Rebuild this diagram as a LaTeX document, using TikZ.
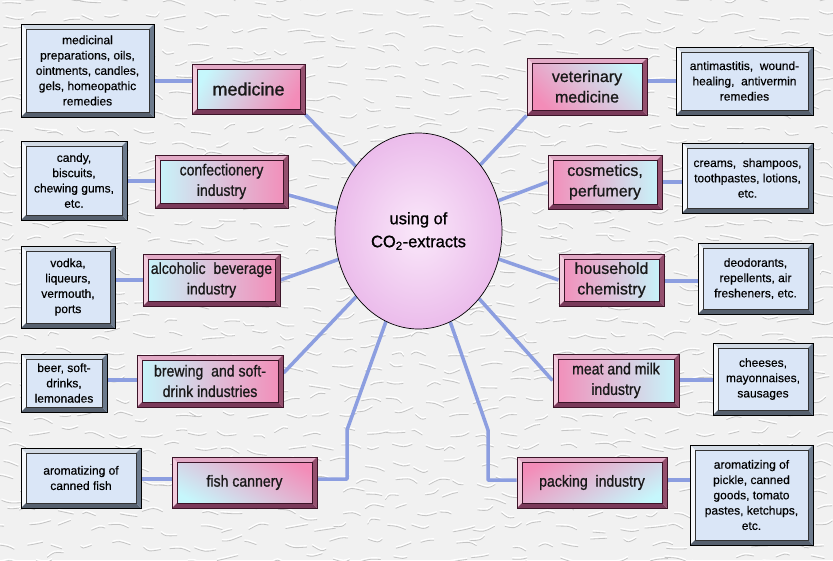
\documentclass[tikz,border=0pt]{standalone}
\usepackage{fontspec}
\setmainfont{Liberation Sans}[FakeBold=0.35]
\newfontfamily\narrowfont[FakeStretch=0.88,FakeBold=0.9]{Liberation Sans}
\newfontfamily\mainfont[FakeBold=0.9]{Liberation Sans}
\usetikzlibrary{shapes.geometric,calc}
\pgfdeclarelayer{bg}
\pgfsetlayers{bg,main}
\definecolor{bgc}{HTML}{F1F1F1}
\definecolor{crack}{HTML}{C4C4C4}
\definecolor{linkc}{HTML}{8C9EE0}
\definecolor{cy}{HTML}{C6F7FC}
\definecolor{pk}{HTML}{F38CB8}
\definecolor{dfill}{HTML}{DAE6F7}
\definecolor{dlight}{HTML}{F6F8FB}
\definecolor{dtop}{HTML}{D2DAE4}
\definecolor{ddark}{HTML}{6C7A8C}
\definecolor{ddarker}{HTML}{56606E}
\definecolor{mlight}{HTML}{F2CCDD}
\definecolor{mtop}{HTML}{E2AAC6}
\definecolor{mdark}{HTML}{94506E}
\definecolor{mdarker}{HTML}{7A3A5A}
\definecolor{mborder}{HTML}{3C1428}
\definecolor{ellout}{HTML}{EBBCEB}
\definecolor{ellin}{HTML}{FAE8FA}
\tikzset{
  bevel/.style n args={5}{path picture={
    \coordinate (pNW) at (path picture bounding box.north west);
    \coordinate (pNE) at (path picture bounding box.north east);
    \coordinate (pSE) at (path picture bounding box.south east);
    \coordinate (pSW) at (path picture bounding box.south west);
    \coordinate (qNW) at ([shift={(5pt,-5pt)}]pNW);
    \coordinate (qNE) at ([shift={(-5pt,-5pt)}]pNE);
    \coordinate (qSE) at ([shift={(-5pt,5pt)}]pSE);
    \coordinate (qSW) at ([shift={(5pt,5pt)}]pSW);
    \fill[#1] (pNW)--(pNE)--(qNE)--(qNW)--cycle;
    \fill[#2] (pNW)--(qNW)--(qSW)--(pSW)--cycle;
    \fill[#3] (pSW)--(qSW)--(qSE)--(pSE)--cycle;
    \fill[#4] (pNE)--(pSE)--(qSE)--(qNE)--cycle;
    \draw[#5,line width=0.6pt] (qNW) rectangle (qSE);
  }},
  detail/.style={rectangle, draw=black, line width=0.9pt, fill=dfill, inner sep=0pt,
    align=center, text=black, font=\fontsize{12}{15.3}\selectfont,
    bevel={dtop}{dlight}{ddarker}{ddark}{black!80}},
  mainbox/.style={rectangle, draw=mborder, line width=1pt, inner sep=0pt,
    align=center, text=black!90, font=\narrowfont\fontsize{16}{20.5}\selectfont,
    bevel={mtop}{mlight}{mdarker}{mdark}{mborder}},
  grad/.style n args={3}{top color=#1, bottom color=#2, shading angle=#3},
  regfont/.style={font=\mainfont\fontsize{#1}{20.5}\selectfont},
  link/.style={draw=linkc, line width=3.5pt, line join=round},
  center/.style={ellipse, draw=black, line width=0.7pt, inner color=ellin, outer color=ellout,
    minimum width=167pt, minimum height=196pt, inner sep=0pt, align=center,
    font=\mainfont\fontsize{16.5}{23}\selectfont}
}
\begin{document}
\begin{tikzpicture}[x=1pt,y=-1pt]
\useasboundingbox (0,0) rectangle (833,560);
% centre
\node[center] (c) at (418.5,231) {using of\\CO\textsubscript{2}-extracts};
% left details
\node[detail, minimum width=133pt, minimum height=93pt] (d1) at (87.5,70.5)
  {medicinal\\preparations, oils,\\ointments, candles,\\gels, homeopathic\\remedies};
\node[detail, minimum width=106pt, minimum height=79pt] (d2) at (74,180.5)
  {candy,\\biscuits,\\chewing gums,\\etc.};
\node[detail, minimum width=94pt, minimum height=82pt] (d3) at (68,287)
  {vodka,\\liqueurs,\\vermouth,\\ports};
\node[detail, minimum width=86pt, minimum height=58pt] (d4) at (64,383)
  {beer, soft-\\drinks,\\lemonades};
\node[detail, minimum width=120pt, minimum height=60pt] (d5) at (81,478)
  {aromatizing of\\canned fish};
% left main
\node[mainbox, grad={cy}{pk}{60}, regfont=18, minimum width=113pt, minimum height=50pt] (m1) at (248.5,89) {medicine};
\node[mainbox, grad={cy}{pk}{90}, minimum width=133pt, minimum height=53pt] (m2) at (221.5,181.5) {confectionery\\industry};
\node[mainbox, grad={cy}{pk}{90}, minimum width=137pt, minimum height=52pt] (m3) at (211.5,280) {alcoholic\ \ beverage\\industry};
\node[mainbox, grad={cy}{pk}{90}, minimum width=146pt, minimum height=52pt] (m4) at (210,381) {brewing\ \ and soft-\\drink industries};
\node[mainbox, grad={pk}{cy}{-30}, minimum width=145pt, minimum height=51pt] (m5) at (244.5,482.5) {fish cannery};
% right main
\node[mainbox, grad={cy}{pk}{-45}, regfont=16, minimum width=120pt, minimum height=57pt] (m6) at (587,86.5) {veterinary\\medicine};
\node[mainbox, grad={pk}{cy}{90}, regfont=16, minimum width=114pt, minimum height=54pt] (m7) at (605,182) {cosmetics,\\perfumery};
\node[mainbox, grad={pk}{cy}{90}, regfont=16, minimum width=105pt, minimum height=52pt] (m8) at (611.5,280) {household\\chemistry};
\node[mainbox, grad={pk}{cy}{90}, minimum width=126pt, minimum height=53pt] (m9) at (616,380.5) {meat and milk\\industry};
\node[mainbox, grad={pk}{cy}{30}, minimum width=150pt, minimum height=51pt] (m10) at (592,482.5) {packing\ \ industry};
% right details
\node[detail, minimum width=137pt, minimum height=68pt] (d6) at (744.5,81)
  {antimastitis,\ \ wound-\\healing,\ \ antivermin\\remedies};
\node[detail, minimum width=131pt, minimum height=70pt] (d7) at (747.5,178)
  {creams,\ \ shampoos,\\toothpastes, lotions,\\etc.};
\node[detail, minimum width=115pt, minimum height=71pt] (d8) at (755.5,278.5)
  {deodorants,\\repellents,\ air\\fresheners, etc.};
\node[detail, minimum width=100pt, minimum height=72pt] (d9) at (763,379)
  {cheeses,\\mayonnaises,\\sausages};
\node[detail, minimum width=123pt, minimum height=100pt] (d10) at (751.5,495)
  {aromatizing of\\pickle, canned\\goods, tomato\\pastes, ketchups,\\etc.};
\coordinate (b5) at (347,430);
\coordinate (b10) at (488,430);
\begin{pgfonlayer}{bg}
\fill[bgc] (0,0) rectangle (833,560);
% paper texture
\begin{scope}
\clip (0,0) rectangle (833,560);
\pgfmathsetseed{4242}
\foreach \i in {0,...,30}{
  \foreach \j in {0,...,35}{
    \pgfmathsetmacro{\xa}{\i*28+rand*9}
    \pgfmathsetmacro{\ya}{\j*16+rand*5}
    \pgfmathsetmacro{\xb}{\xa+16+rand*6}
    \pgfmathsetmacro{\yb}{\ya+rand*5}
    \pgfmathsetmacro{\xm}{(\xa+\xb)/2+rand*4}
    \pgfmathsetmacro{\ym}{(\ya+\yb)/2+rand*4}
    \draw[crack, line width=0.8pt, line cap=round] (\xa,\ya) .. controls (\xm,\ym) .. (\xb,\yb);
    \draw[white, line width=1.1pt, line cap=round] (\xa,\ya-1.5) .. controls (\xm,\ym-1.5) .. (\xb,\yb-1.5);
  }
}
\end{scope}
% detail links
\draw[link] (d1.east |- 0,81) -- (m1.west |- 0,81);
\draw[link] (d2.east |- 0,181) -- (m2.west |- 0,181);
\draw[link] (d3.east |- 0,280) -- (m3.west |- 0,280);
\draw[link] (d4.east |- 0,380) -- (m4.west |- 0,380);
\draw[link] (d5.east |- 0,479) -- (m5.west |- 0,479);
\draw[link] (m6.east |- 0,81) -- (d6.west |- 0,81);
\draw[link] (m7.east |- 0,182) -- (d7.west |- 0,182);
\draw[link] (m8.east |- 0,281) -- (d8.west |- 0,281);
\draw[link] (m9.east |- 0,380) -- (d9.west |- 0,380);
\draw[link] (m10.east |- 0,480) -- (d10.west |- 0,480);
% centre links
\draw[link] (m1.south east) -- (c);
\draw[link] (m2.east |- 0,195) -- (c);
\draw[link] (m3.east) -- (c);
\draw[link] (m4.east |- 0,373) -- (c);
\draw[link] (m5.east |- 0,479) -| (b5) -- (c);
\draw[link] (m6.south west) -- (c);
\draw[link] (m7.west) -- (c);
\draw[link] (m8.west) -- (c);
\draw[link] (m9.west) -- (c);
\draw[link] (m10.west |- 0,480) -| (b10) -- (c);
\end{pgfonlayer}
\end{tikzpicture}
\end{document}
